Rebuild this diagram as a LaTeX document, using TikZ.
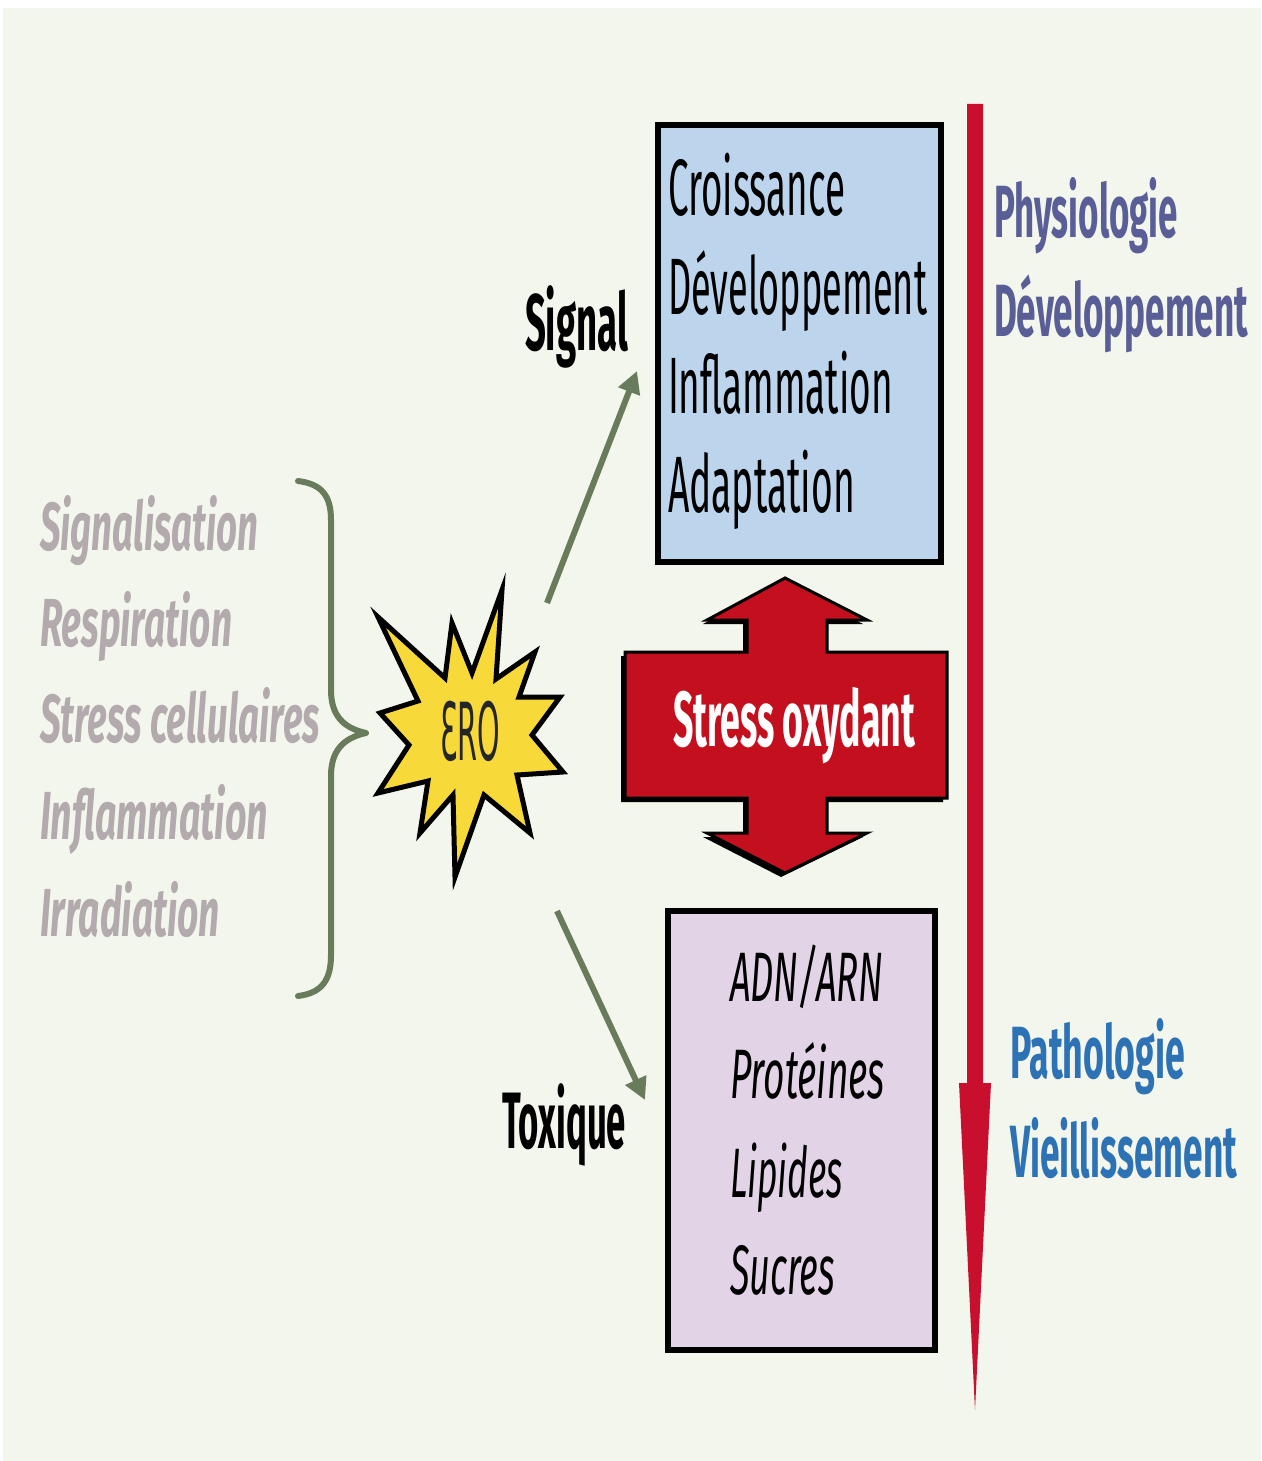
\documentclass[tikz,border=0pt]{standalone}
\usepackage{graphicx}
\usepackage{fontspec}
\setmainfont{Fira Sans}
\newfontfamily\erofont{DejaVu Sans}
\usetikzlibrary{arrows.meta}

% set a text at its natural height, squeezed horizontally to a given width (pt)
\newsavebox\fitbox
\newcommand\fitw[2]{\sbox\fitbox{#2}\pgfmathsetmacro\fitratio{#1/\wd\fitbox}\scalebox{\fitratio}[1]{\usebox\fitbox}}

\definecolor{bgcol}{HTML}{F3F6EC}
\definecolor{bluefill}{HTML}{BCD5EC}
\definecolor{pinkfill}{HTML}{E3D3E6}
\definecolor{greytxt}{HTML}{B3AAAE}
\definecolor{leafgreen}{HTML}{687B5A}
\definecolor{alarmred}{HTML}{C8102E}
\definecolor{stressred}{HTML}{C4101E}
\definecolor{burst}{HTML}{F8D93A}
\definecolor{physcol}{HTML}{5A5E96}
\definecolor{pathcol}{HTML}{2C72B4}

\tikzset{
  lbl/.style={inner sep=0pt, outer sep=0pt, anchor=base west},
  boxtxt/.style={lbl, font=\fontsize{80}{96}\selectfont},
  toxtxt/.style={lbl, font=\fontsize{70}{84}\selectfont\itshape},
  srctxt/.style={lbl, text=greytxt, font=\fontsize{68}{80}\selectfont\bfseries\itshape},
  tagtxt/.style={lbl, font=\fontsize{80}{96}\selectfont\bfseries},
  fatetxt/.style={lbl, font=\fontsize{74}{88}\selectfont\bfseries},
  frame/.style={draw=black, line width=6pt},
  route/.style={draw=leafgreen, line width=6pt,
    -{Triangle[length=22pt, width=22pt]}},
}

\begin{document}
\begin{tikzpicture}[x=1pt, y=-1pt]
  \useasboundingbox (0,0) rectangle (1261,1461);
  \fill[white] (0,0) rectangle (1261,1461);
  \fill[bgcol] (3,8) rectangle (1261,1461);

  % sources of reactive oxygen species
  \node[srctxt] (s1) at (40,550) {\fitw{218}{Signalisation}};
  \node[srctxt] (s2) at (40,646) {\fitw{192}{Respiration}};
  \node[srctxt] (s3) at (40,742) {\fitw{280}{Stress cellulaires}};
  \node[srctxt] (s4) at (40,839) {\fitw{228}{Inflammation}};
  \node[srctxt] (s5) at (40,936) {\fitw{180}{Irradiation}};

  % curly brace gathering the sources
  \draw[leafgreen, line width=6pt, line cap=round, line join=round]
    (298,481) .. controls (322,484) and (331,496) .. (331,520)
    -- (331,690) .. controls (331,715) and (343,728) .. (366,733)
    .. controls (343,738) and (331,751) .. (331,776)
    -- (331,955) .. controls (331,980) and (322,993) .. (298,996);

  % starburst
  \filldraw[fill=burst, draw=black, line width=5pt, line join=miter]
    (502,590) -- (496,679) -- (535,652) -- (519,697) -- (560,697) -- (532,735)
    -- (563,772) -- (517,775) -- (530,833) -- (484,795) -- (455,877) -- (453,795)
    -- (420,833) -- (428,781) -- (378,793) -- (409,745) -- (380,713) -- (418,701)
    -- (378,617) -- (445,678) -- (452,623) -- (472,673) -- cycle;
  \node[inner sep=0pt, font=\fontsize{80}{96}\selectfont\erofont, text=black!85]
    (ero) at (470,731) {\fitw{60}{ƐRO}};

  % routes from the species to their effects
  \coordinate (sigtail) at (547,603);
  \coordinate (sighead) at (637,371);
  \coordinate (toxtail) at (557,911);
  \coordinate (toxhead) at (645,1100);
  \draw[route] (sigtail) -- (sighead);
  \draw[route] (toxtail) -- (toxhead);

  \node[tagtxt] (signal) at (525,350) {\fitw{103}{Signal}};
  \node[tagtxt] (toxique) at (502,1148) {\fitw{124}{Toxique}};

  % signalling effects
  \filldraw[frame, fill=bluefill] (658,125) rectangle (941,562);
  \node[boxtxt] (b1) at (668,215) {\fitw{177}{Croissance}};
  \node[boxtxt] (b2) at (668,314) {\fitw{259}{Développement}};
  \node[boxtxt] (b3) at (668,413) {\fitw{225}{Inflammation}};
  \node[boxtxt] (b4) at (668,512) {\fitw{187}{Adaptation}};

  % damaged targets
  \filldraw[frame, fill=pinkfill] (668,911) rectangle (935,1350);
  \node[toxtxt] (t1) at (730,1001) {\fitw{153}{ADN/ARN}};
  \node[toxtxt] (t2) at (730,1098) {\fitw{155}{Protéines}};
  \node[toxtxt] (t3) at (730,1197) {\fitw{113}{Lipides}};
  \node[toxtxt] (t4) at (730,1294) {\fitw{105}{Sucres}};

  % oxidative stress double arrow with its shadow
  \fill[black] ([shift={(-4,4)}]785,578) -- ([shift={(-4,4)}]867,620) -- ([shift={(-4,4)}]827,620)
    -- ([shift={(-4,4)}]827,652) -- ([shift={(-4,4)}]947,652) -- ([shift={(-4,4)}]947,798)
    -- ([shift={(-4,4)}]827,798) -- ([shift={(-4,4)}]827,833) -- ([shift={(-4,4)}]867,833)
    -- ([shift={(-4,4)}]785,873) -- ([shift={(-4,4)}]707,833) -- ([shift={(-4,4)}]747,833)
    -- ([shift={(-4,4)}]747,798) -- ([shift={(-4,4)}]625,798) -- ([shift={(-4,4)}]625,652)
    -- ([shift={(-4,4)}]747,652) -- ([shift={(-4,4)}]747,620) -- ([shift={(-4,4)}]707,620) -- cycle;
  \filldraw[fill=stressred, draw=black, line width=3pt, line join=miter]
    (785,578) -- (867,620) -- (827,620) -- (827,652) -- (947,652) -- (947,798)
    -- (827,798) -- (827,833) -- (867,833) -- (785,873) -- (707,833) -- (747,833)
    -- (747,798) -- (625,798) -- (625,652) -- (747,652) -- (747,620) -- (707,620) -- cycle;
  \node[lbl, text=white, font=\fontsize{78}{90}\selectfont\bfseries]
    (stress) at (673,746) {\fitw{242}{Stress oxydant}};

  % scale from physiology to pathology
  \fill[alarmred] (967,104) -- (983,104) -- (983,1083) -- (991,1083) -- (975,1410)
    -- (959,1083) -- (967,1083) -- cycle;
  \node[fatetxt, text=physcol] (f1) at (994,237) {\fitw{184}{Physiologie}};
  \node[fatetxt, text=physcol] (f2) at (994,336) {\fitw{254}{Développement}};
  \node[fatetxt, text=pathcol] (f3) at (1010,1078) {\fitw{175}{Pathologie}};
  \node[fatetxt, text=pathcol] (f4) at (1010,1177) {\fitw{227}{Vieillissement}};
\end{tikzpicture}
\end{document}
